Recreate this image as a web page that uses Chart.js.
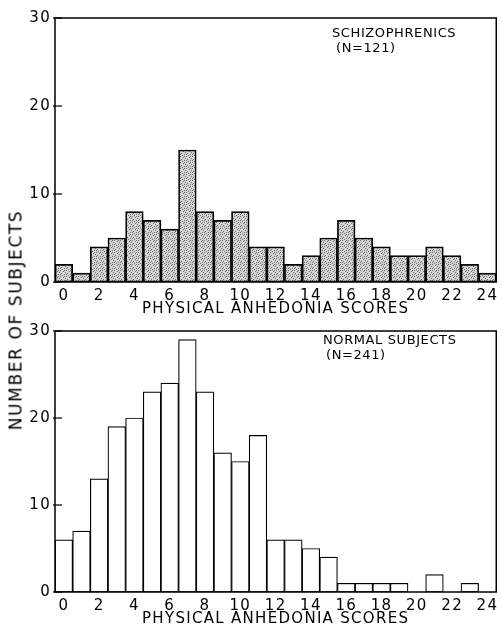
<!DOCTYPE html>
<html>
<head>
<meta charset="utf-8">
<script src="https://cdn.jsdelivr.net/npm/chart.js@4/dist/chart.umd.min.js"></script>
<style>
body { margin: 0; background: #fff; width: 502px; height: 628px; overflow: hidden; position: relative; font-family: 'DejaVu Sans', sans-serif; color: #000; }
canvas { position: absolute; left: 0; }
#topChart { top: 0; width: 502px; height: 318px; }
#bottomChart { top: 318px; width: 502px; height: 310px; }
.note { position: absolute; font-size: 13px; letter-spacing: 0.6px; white-space: nowrap; line-height: 13px; }
#ytitle { position: absolute; left: 16px; top: 320px; transform: translate(-50%, -50%) rotate(-90deg); white-space: nowrap; font-size: 17px; letter-spacing: 1.6px; line-height: 17px; }
</style>
</head>
<body>
<canvas id="topChart" width="502" height="318"></canvas>
<canvas id="bottomChart" width="502" height="310"></canvas>
<div id="ytitle">NUMBER OF SUBJECTS</div>
<div class="note" style="left:332px;top:26px">SCHIZOPHRENICS</div>
<div class="note" style="left:336px;top:41px">(N=121)</div>
<div class="note" style="left:323px;top:333px">NORMAL SUBJECTS</div>
<div class="note" style="left:326px;top:348px">(N=241)</div>
<script>
Chart.defaults.color = '#000';
Chart.defaults.font.family = 'DejaVu Sans';

// Physical anhedonia score categories
const scores = ['0','1','2','3','4','5','6','7','8','9','10','11','12',
                '13','14','15','16','17','18','19','20','21','22','23','24'];
// shown tick labels on the x axis
const xTickLabels = ['0','2','4','6','8','10','12','14','16','18','20','22','24'];
const yTickValues = [0, 10, 20, 30];

// Number of subjects per score
const schizophrenics = [2, 1, 4, 5, 8, 7, 6, 15, 8, 7, 8, 4, 4, 2, 3, 5, 7, 5, 4, 3, 3, 4, 3, 2, 1];
const normalSubjects = [6, 7, 13, 19, 20, 23, 24, 29, 23, 16, 15, 18, 6, 6, 5, 4, 1, 1, 1, 1, 0, 2, 0, 1, 0];

// stipple fill for the schizophrenic bars (fixed dot layout)
function makeStipple() {
    const c = document.createElement('canvas');
    c.width = 6; c.height = 6;
    const g = c.getContext('2d');
    g.fillStyle = '#d4d4d4';
    g.fillRect(0, 0, 6, 6);
    g.fillStyle = '#6e6e6e';
    const dots = [[0,0],[3,1],[1,3],[4,4],[2,5],[5,2],[0,4],[4,0]];
    dots.forEach(d => g.fillRect(d[0], d[1], 1, 1));
    return g.createPattern(c, 'repeat');
}

// wider lettering like the original drafting text
const letterPlugin = {
    id: 'letters',
    beforeDraw: (chart) => { chart.ctx.letterSpacing = '1.3px'; },
    afterDraw: (chart) => { chart.ctx.letterSpacing = '0px'; }
};

// box around the plot and short inward ticks on the y axis
const framePlugin = {
    id: 'frame',
    afterDatasetsDraw: (chart) => {
        const { ctx, chartArea } = chart;
        const y = chart.scales.y;
        ctx.save();
        ctx.strokeStyle = '#000';
        ctx.lineWidth = 1.5;
        ctx.strokeRect(chartArea.left, chartArea.top, chartArea.right - chartArea.left, chartArea.bottom - chartArea.top);
        ctx.lineWidth = 1.2;
        yTickValues.forEach(v => {
            const py = y.getPixelForValue(v);
            ctx.beginPath();
            ctx.moveTo(chartArea.left - 2, py);
            ctx.lineTo(chartArea.left + 7, py);
            ctx.stroke();
        });
        ctx.restore();
    }
};

function histConfig(values, fill, borderWidth, padTop, axisHeight) {
    return {
        type: 'bar',
        data: {
            labels: scores,
            datasets: [{
                data: values,
                backgroundColor: fill,
                borderColor: '#000',
                borderWidth: borderWidth,
                borderSkipped: false,
                barPercentage: 1.0,
                categoryPercentage: 1.0
            }]
        },
        options: {
            responsive: false,
            animation: false,
            layout: { padding: { top: padTop, right: 1, left: 0, bottom: 0 } },
            plugins: { legend: { display: false }, tooltip: { enabled: false } },
            scales: {
                x: {
                    grid: { display: false, drawTicks: false, tickLength: 0 },
                    border: { display: false },
                    ticks: {
                        autoSkip: false,
                        maxRotation: 0,
                        padding: 5,
                        font: { size: 15 },
                        callback: function (val, i) {
                            const lab = scores[i];
                            return xTickLabels.includes(lab) ? lab : '';
                        }
                    },
                    title: {
                        display: true,
                        text: 'PHYSICAL ANHEDONIA SCORES',
                        font: { size: 15 },
                        padding: { top: 0, bottom: 0 }
                    },
                    afterFit: (scale) => { scale.height = axisHeight; }
                },
                y: {
                    min: 0,
                    max: 30,
                    grid: { display: false, drawTicks: false, tickLength: 0 },
                    border: { display: false },
                    ticks: { stepSize: 10, padding: 4, font: { size: 15 } },
                    afterFit: (scale) => { scale.width = 55; }
                }
            }
        },
        plugins: [letterPlugin, framePlugin]
    };
}

new Chart(document.getElementById('topChart'), histConfig(schizophrenics, makeStipple(), 1.7, 18, 36));
new Chart(document.getElementById('bottomChart'), histConfig(normalSubjects, '#ffffff', 1.2, 6, 36));
</script>
</body>
</html>
